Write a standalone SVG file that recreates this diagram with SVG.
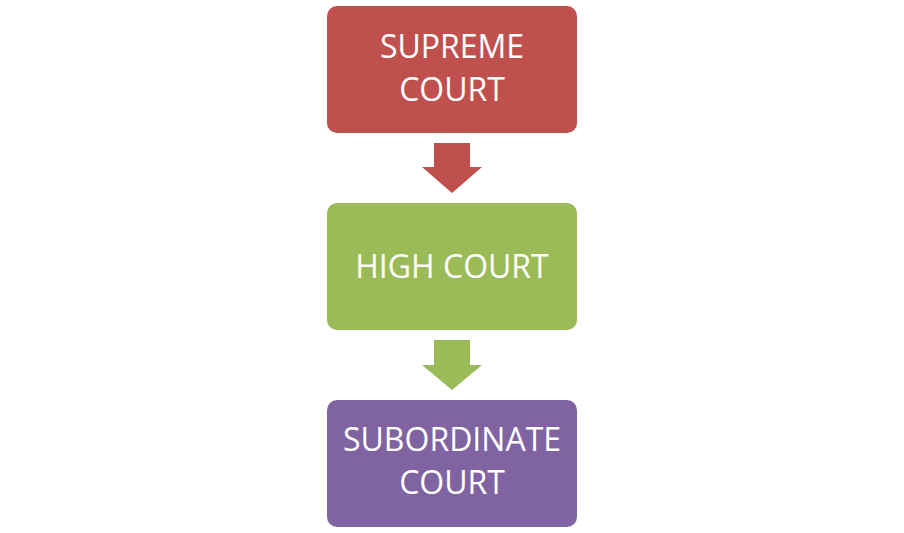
<svg xmlns="http://www.w3.org/2000/svg" width="904" height="533" viewBox="0 0 904 533">
<style>
.box{stroke:none}
.lbl{font-family:"Open Sans","Liberation Sans",sans-serif;font-size:32px;fill:#ffffff;text-anchor:middle}
</style>
<rect width="904" height="533" fill="#ffffff"/>
<g id="supreme">
<rect class="box" x="327" y="6" width="250" height="127" rx="10" fill="#C0504D"/>
<text class="lbl" x="452" y="58">SUPREME</text>
<text class="lbl" x="452" y="101">COURT</text>
</g>
<g id="high">
<rect class="box" x="327" y="203" width="250" height="127" rx="10" fill="#9BBB59"/>
<text class="lbl" x="452" y="278">HIGH COURT</text>
</g>
<g id="subordinate">
<rect class="box" x="327" y="400" width="250" height="127" rx="10" fill="#8064A2"/>
<text class="lbl" x="452" y="451">SUBORDINATE</text>
<text class="lbl" x="452" y="494">COURT</text>
</g>
<g id="connectors">
<polygon points="434,143 470,143 470,167 482,167 452,193 422,167 434,167" fill="#C0504D"/>
<polygon points="434,340 470,340 470,365 482,365 452,390 422,365 434,365" fill="#9BBB59"/>
</g>
</svg>
